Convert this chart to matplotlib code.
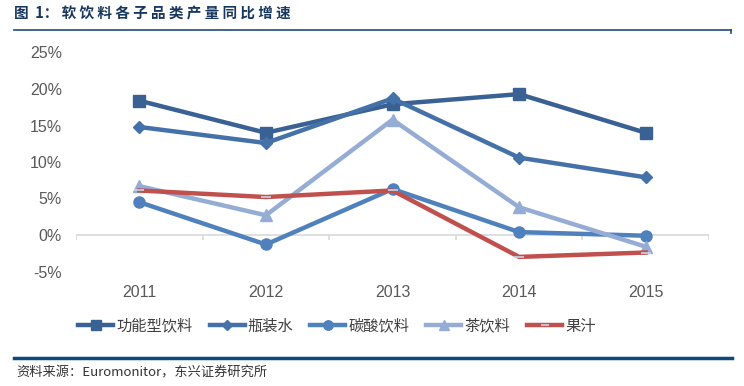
import matplotlib
matplotlib.use('Agg')
import matplotlib.pyplot as plt
import numpy as np

plt.rcParams['font.family'] = ['Liberation Sans', 'Noto Sans CJK SC', 'DejaVu Sans']

# 数据
years = ['2011', '2012', '2013', '2014', '2015']
func_drink = [18.4, 14.0, 17.9, 19.3, 14.0]   # 功能型饮料
water = [14.8, 12.6, 18.7, 10.6, 7.9]          # 瓶装水
soda = [4.5, -1.3, 6.3, 0.4, -0.1]             # 碳酸饮料
tea = [6.7, 2.7, 15.8, 3.8, -1.6]              # 茶饮料
juice = [6.1, 5.2, 6.1, -3.0, -2.4]            # 果汁

names = ['功能型饮料', '瓶装水', '碳酸饮料', '茶饮料', '果汁']
yticks = [-5, 0, 5, 10, 15, 20, 25]

W, H = 744, 386
fig = plt.figure(figsize=(W / 100, H / 100), dpi=100)
cjk = ['Noto Sans CJK SC', 'DejaVu Sans']

# 标题和上下横线
title = '图  1： ' + ' '.join('软饮料各子品类产量同比增速')
fig.text(14 / W, 1 - 13 / H, title, fontsize=10.5, fontweight='bold',
         color='#17375E', va='center', ha='left', family=cjk)
fig.add_artist(plt.Line2D([14 / W, 731 / W], [1 - 29.5 / H, 1 - 29.5 / H], color='#1F4E79', lw=1.2))
fig.add_artist(plt.Line2D([731 / W, 731 / W], [1 - 29.5 / H, 1 - 32.5 / H], color='#1F4E79', lw=1.2))
fig.add_artist(plt.Line2D([14 / W, 732 / W], [1 - 358 / H, 1 - 358 / H], color='#0B4A80', lw=2.5))
fig.text(16 / W, 1 - 373 / H, '资料来源：Euromonitor，东兴证券研究所', fontsize=9.5, style='italic',
         color='#333333', va='center', ha='left', family=cjk)

# 绘图区
ax = fig.add_axes([76 / W, 1 - 271.5 / H, (709 - 76) / W, (271.5 - 52.5) / H])
ax.set_xlim(0, 5)
ax.set_ylim(-5, 25)
for s in ax.spines.values():
    s.set_visible(False)
ax.axhline(0, color='#D9D9D9', lw=1.2, zorder=1)
ax.vlines(np.arange(6), -0.65, 0, color='#D9D9D9', lw=1.2, zorder=1)

x = np.arange(5) + 0.5
ax.plot(x, func_drink, color='#3A6193', lw=3.2, marker='s', ms=8, label=names[0], zorder=3)
ax.plot(x, water, color='#4571A9', lw=3.2, marker='D', ms=6.5, label=names[1], zorder=3)
ax.plot(x, soda, color='#4F81BD', lw=3.2, marker='o', ms=8, label=names[2], zorder=3)
ax.plot(x, tea, color='#95ACD4', lw=3.2, marker='^', ms=9, label=names[3], zorder=3)
ax.plot(x, juice, color='#C0504D', lw=3.2, marker='_', ms=7, mew=1.2, mec='#C9D4E8',
        label=names[4], zorder=3)

ax.set_yticks(yticks)
ax.set_yticklabels(['%d%%' % v for v in yticks], fontsize=11.5, color='#595959')
ax.tick_params(axis='y', length=0, pad=10)
ax.set_xticks([])
for xi, yr in zip(x, years):
    ax.text(xi, -5 - 2.9, yr, ha='center', va='center', fontsize=11.5, color='#595959')

# 图例
fig.legend(loc='center', bbox_to_anchor=(337 / W, 1 - 326 / H), ncol=5, frameon=False,
           prop={'family': cjk, 'size': 11}, markerscale=0.85,
           labelcolor='#404040', handlelength=2.3, handletextpad=0.2, columnspacing=1.1)

fig.savefig('out.png', dpi=100)
